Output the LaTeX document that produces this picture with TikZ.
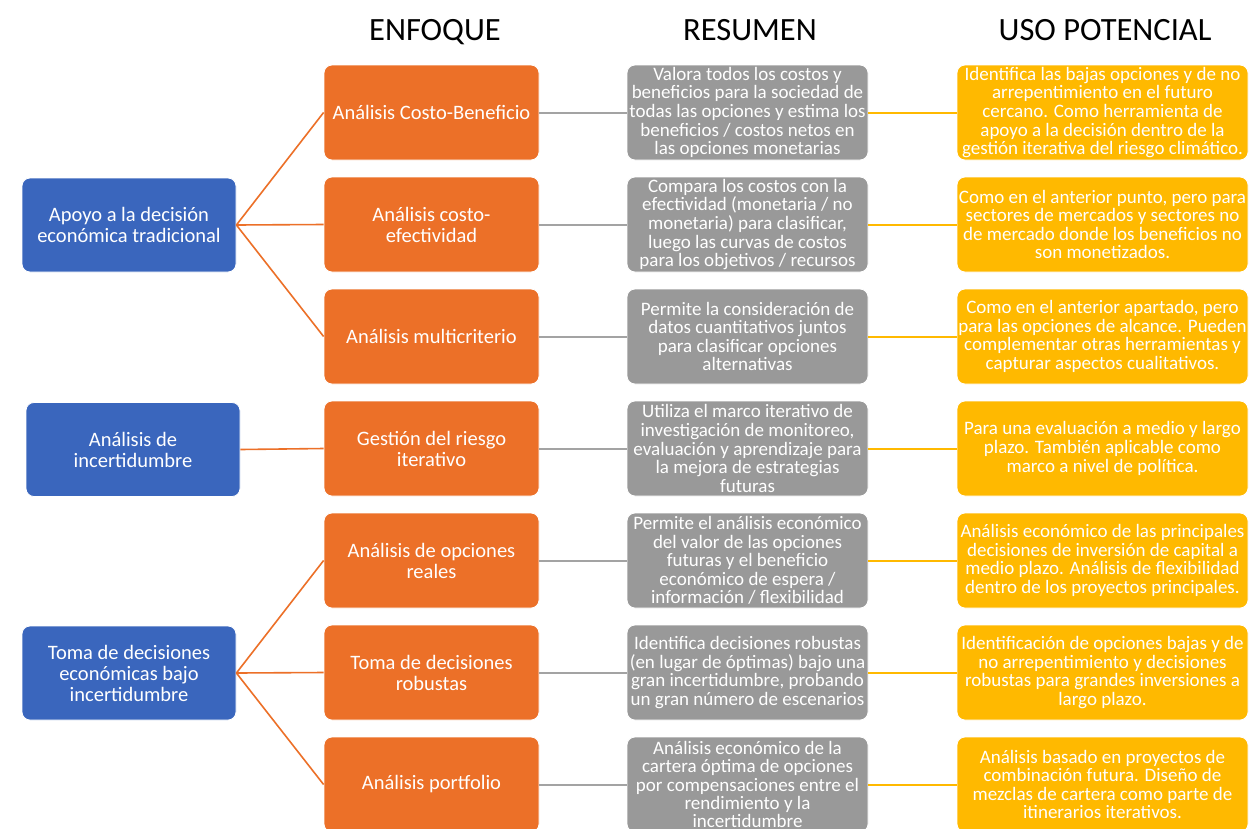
\documentclass[tikz,border=0pt]{standalone}
\usepackage{fontspec}
\setmainfont{Carlito}
\definecolor{cblue}{HTML}{3A66BD}
\definecolor{corange}{HTML}{EC7028}
\definecolor{cgray}{HTML}{999999}
\definecolor{cgrayline}{HTML}{A3A3A3}
\definecolor{cyellow}{HTML}{FFB900}
\begin{document}
\begin{tikzpicture}[x=1pt,y=-1pt,
  box/.style={rectangle, rounded corners=8pt, text=white, align=center, inner sep=1pt, draw=white, line width=0.8pt},
  bigtxt/.style={font=\fontsize{20.5}{21}\selectfont},
  smalltxt/.style={font=\fontsize{19}{18.6}\selectfont},
  bluebox/.style={box, bigtxt, fill=cblue, minimum width=214pt, minimum height=94pt},
  orangebox/.style={box, bigtxt, fill=corange, minimum width=215pt, minimum height=95pt},
  graybox/.style={box, smalltxt, fill=cgray, minimum width=241pt, minimum height=95pt},
  yellowbox/.style={box, smalltxt, fill=cyellow, minimum width=291pt, minimum height=95pt},
  header/.style={font=\fontsize{32.5}{34}\selectfont, text=black, anchor=base, inner sep=0pt},
  oline/.style={draw=corange, line width=1.6pt},
  gline/.style={draw=cgrayline, line width=2pt},
  yline/.style={draw=cyellow, line width=2pt}
]
\clip (0,0) rectangle (1252,828);
\fill[white] (0,0) rectangle (1252,828);

\node[header] (h1) at (435,40) {ENFOQUE};
\node[header] (h2) at (750,40) {RESUMEN};
\node[header] (h3) at (1105,40) {USO POTENCIAL};

% blue
\node[bluebox] (b1) at (129,225) {Apoyo a la decisión\\económica tradicional};
\node[bluebox] (b2) at (133,449.5) {Análisis de\\incertidumbre};
\node[bluebox] (b3) at (129,673) {Toma de decisiones\\económicas bajo\\incertidumbre};

% orange
\node[orangebox] (o1) at (431.5,112.5) {Análisis Costo-Beneficio};
\node[orangebox] (o2) at (431.5,224.5) {Análisis costo-\\efectividad};
\node[orangebox] (o3) at (431.5,336.5) {Análisis multicriterio};
\node[orangebox] (o4) at (431.5,448.5) {Gestión del riesgo\\iterativo};
\node[orangebox] (o5) at (431.5,560.5) {Análisis de opciones\\reales};
\node[orangebox] (o6) at (431.5,672.5) {Toma de decisiones\\robustas};
\node[orangebox] (o7) at (431.5,784.5) {Análisis portfolio};

% gray
\node[graybox] (g1) at (747.5,112.5) {Valora todos los costos y\\beneficios para la sociedad de\\todas las opciones y estima los\\beneficios / costos netos en\\las opciones monetarias};
\node[graybox] (g2) at (747.5,224.5) {Compara los costos con la\\efectividad (monetaria / no\\monetaria) para clasificar,\\luego las curvas de costos\\para los objetivos / recursos};
\node[graybox] (g3) at (747.5,336.5) {Permite la consideración de\\datos cuantitativos juntos\\para clasificar opciones\\alternativas};
\node[graybox] (g4) at (747.5,448.5) {Utiliza el marco iterativo de\\investigación de monitoreo,\\evaluación y aprendizaje para\\la mejora de estrategias\\futuras};
\node[graybox] (g5) at (747.5,560.5) {Permite el análisis económico\\del valor de las opciones\\futuras y el beneficio\\económico de espera /\\información / flexibilidad};
\node[graybox] (g6) at (747.5,672.5) {Identifica decisiones robustas\\(en lugar de óptimas) bajo una\\gran incertidumbre, probando\\un gran número de escenarios};
\node[graybox, font=\fontsize{19}{18.2}\selectfont] (g7) at (747.5,784.5) {Análisis económico de la\\cartera óptima de opciones\\por compensaciones entre el\\rendimiento y la\\incertidumbre};

% yellow
\node[yellowbox] (y1) at (1102.5,112.5) {Identifica las bajas opciones y de no\\arrepentimiento en el futuro\\cercano. Como herramienta de\\apoyo a la decisión dentro de la\\gestión iterativa del riesgo climático.};
\node[yellowbox] (y2) at (1102.5,224.5) {Como en el anterior punto, pero para\\sectores de mercados y sectores no\\de mercado donde los beneficios no\\son monetizados.};
\node[yellowbox] (y3) at (1102.5,336.5) {Como en el anterior apartado, pero\\para las opciones de alcance. Pueden\\complementar otras herramientas y\\capturar aspectos cualitativos.};
\node[yellowbox] (y4) at (1102.5,448.5) {Para una evaluación a medio y largo\\plazo. También aplicable como\\marco a nivel de política.};
\node[yellowbox] (y5) at (1102.5,560.5) {Análisis económico de las principales\\decisiones de inversión de capital a\\medio plazo. Análisis de flexibilidad\\dentro de los proyectos principales.};
\node[yellowbox] (y6) at (1102.5,672.5) {Identificación de opciones bajas y de\\no arrepentimiento y decisiones\\robustas para grandes inversiones a\\largo plazo.};
\node[yellowbox] (y7) at (1102.5,784.5) {Análisis basado en proyectos de\\combinación futura. Diseño de\\mezclas de cartera como parte de\\itinerarios iterativos.};

% connectors
\foreach \o in {o1,o2,o3} \draw[oline] (b1.east) -- (\o.west);
\draw[oline] (b2.east) -- (o4.west);
\foreach \o in {o5,o6,o7} \draw[oline] (b3.east) -- (\o.west);
\foreach \i in {1,...,7} {
  \draw[gline] (o\i.east) -- (g\i.west);
  \draw[yline] (g\i.east) -- (y\i.west);
}
\end{tikzpicture}
\end{document}
